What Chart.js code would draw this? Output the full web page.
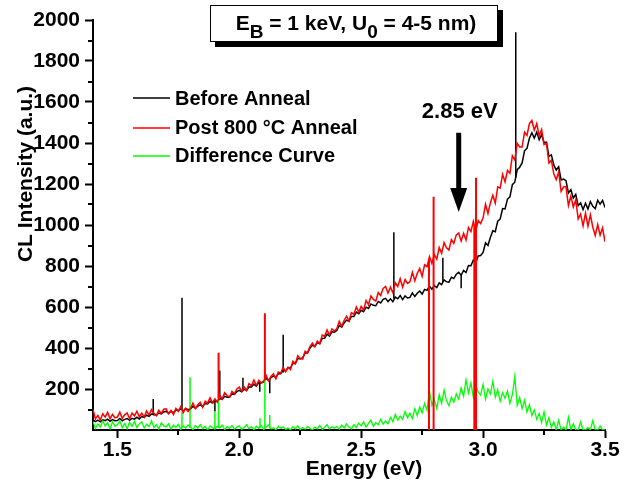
<!DOCTYPE html>
<html>
<head>
<meta charset="utf-8">
<script src="https://cdn.jsdelivr.net/npm/chart.js@4.4.1/dist/chart.umd.min.js"></script>
<style>
  html, body { margin: 0; padding: 0; background: #fff; }
  #wrap { width: 634px; height: 480px; position: relative; }
</style>
</head>
<body>
<div id="wrap"><canvas id="spectrum"></canvas></div>
<script>
// photon energy (eV), one channel every 0.01 eV
const energy = [
  1.40, 1.41, 1.42, 1.43, 1.44, 1.45, 1.46, 1.47, 1.48, 1.49,
  1.50, 1.51, 1.52, 1.53, 1.54, 1.55, 1.56, 1.57, 1.58, 1.59,
  1.60, 1.61, 1.62, 1.63, 1.64, 1.65, 1.66, 1.67, 1.68, 1.69,
  1.70, 1.71, 1.72, 1.73, 1.74, 1.75, 1.76, 1.77, 1.78, 1.79,
  1.80, 1.81, 1.82, 1.83, 1.84, 1.85, 1.86, 1.87, 1.88, 1.89,
  1.90, 1.91, 1.92, 1.93, 1.94, 1.95, 1.96, 1.97, 1.98, 1.99,
  2.00, 2.01, 2.02, 2.03, 2.04, 2.05, 2.06, 2.07, 2.08, 2.09,
  2.10, 2.11, 2.12, 2.13, 2.14, 2.15, 2.16, 2.17, 2.18, 2.19,
  2.20, 2.21, 2.22, 2.23, 2.24, 2.25, 2.26, 2.27, 2.28, 2.29,
  2.30, 2.31, 2.32, 2.33, 2.34, 2.35, 2.36, 2.37, 2.38, 2.39,
  2.40, 2.41, 2.42, 2.43, 2.44, 2.45, 2.46, 2.47, 2.48, 2.49,
  2.50, 2.51, 2.52, 2.53, 2.54, 2.55, 2.56, 2.57, 2.58, 2.59,
  2.60, 2.61, 2.62, 2.63, 2.64, 2.65, 2.66, 2.67, 2.68, 2.69,
  2.70, 2.71, 2.72, 2.73, 2.74, 2.75, 2.76, 2.77, 2.78, 2.79,
  2.80, 2.81, 2.82, 2.83, 2.84, 2.85, 2.86, 2.87, 2.88, 2.89,
  2.90, 2.91, 2.92, 2.93, 2.94, 2.95, 2.96, 2.97, 2.98, 2.99,
  3.00, 3.01, 3.02, 3.03, 3.04, 3.05, 3.06, 3.07, 3.08, 3.09,
  3.10, 3.11, 3.12, 3.13, 3.14, 3.15, 3.16, 3.17, 3.18, 3.19,
  3.20, 3.21, 3.22, 3.23, 3.24, 3.25, 3.26, 3.27, 3.28, 3.29,
  3.30, 3.31, 3.32, 3.33, 3.34, 3.35, 3.36, 3.37, 3.38, 3.39,
  3.40, 3.41, 3.42, 3.43, 3.44, 3.45, 3.46, 3.47, 3.48, 3.49,
  3.50
];

const beforeAnneal = [
  50, 41, 48, 40, 50, 46, 53, 42, 51, 45,
  46, 56, 45, 52, 56, 47, 57, 53, 62, 54,
  66, 61, 72, 67, 78, 74, 72, 83, 79, 88,
  91, 82, 91, 84, 98, 94, 104, 93, 105, 99,
  102, 116, 106, 116, 123, 115, 129, 127, 140, 132,
  143, 139, 154, 149, 164, 160, 160, 176, 174, 187,
  193, 186, 199, 193, 211, 210, 224, 214, 231, 229,
  235, 252, 242, 255, 264, 257, 275, 275, 293, 287,
  303, 302, 326, 325, 349, 348, 352, 376, 377, 400,
  413, 408, 426, 422, 447, 448, 468, 458, 479, 477,
  485, 510, 502, 522, 536, 530, 554, 554, 575, 567,
  584, 577, 599, 593, 615, 608, 606, 627, 620, 637,
  642, 626, 640, 626, 648, 640, 656, 636, 654, 644,
  647, 669, 651, 667, 678, 663, 686, 681, 702, 687,
  704, 695, 718, 709, 732, 723, 721, 745, 739, 760,
  769, 755, 778, 768, 802, 801, 829, 816, 849, 851,
  866, 913, 900, 940, 972, 967, 1019, 1029, 1080, 1078,
  1126, 1137, 1197, 1209, 1270, 1282, 1303, 1362, 1374, 1423,
  1450, 1424, 1453, 1416, 1441, 1401, 1404, 1335, 1342, 1293,
  1268, 1284, 1220, 1224, 1216, 1156, 1172, 1132, 1149, 1094,
  1108, 1075, 1106, 1078, 1114, 1091, 1080, 1121, 1102, 1120,
  1085
];

const postAnneal = [
  100, 54, 71, 49, 79, 63, 86, 55, 76, 59,
  63, 87, 57, 74, 83, 55, 82, 69, 92, 64,
  82, 63, 93, 73, 100, 81, 70, 96, 80, 101,
  103, 79, 96, 75, 105, 91, 114, 84, 106, 90,
  105, 131, 104, 123, 135, 110, 140, 131, 157, 132,
  152, 136, 169, 152, 182, 168, 160, 189, 176, 200,
  209, 189, 210, 193, 227, 216, 243, 217, 242, 230,
  238, 266, 240, 261, 274, 250, 283, 277, 306, 284,
  306, 295, 336, 323, 362, 349, 346, 384, 375, 408,
  424, 406, 434, 421, 463, 456, 488, 463, 493, 484,
  494, 530, 505, 535, 555, 532, 572, 565, 600, 575,
  603, 585, 632, 611, 654, 637, 629, 670, 656, 691,
  700, 668, 697, 670, 718, 700, 738, 697, 734, 715,
  723, 769, 728, 764, 788, 750, 806, 797, 846, 812,
  856, 834, 890, 862, 914, 889, 878, 929, 910, 952,
  961, 922, 959, 927, 988, 968, 1018, 971, 1021, 1007,
  1035, 1101, 1056, 1109, 1145, 1107, 1186, 1180, 1247, 1210,
  1266, 1252, 1338, 1317, 1398, 1380, 1380, 1453, 1437, 1495,
  1510, 1462, 1495, 1435, 1465, 1392, 1398, 1302, 1315, 1250,
  1222, 1259, 1164, 1186, 1187, 1095, 1141, 1088, 1122, 1030,
  1054, 996, 1058, 994, 1050, 989, 949, 1002, 950, 986,
  918
];

const difference = [
  42, 8, 30, 15, 44, 20, 36, 5, 40, 18,
  25, 45, 10, 32, 6, 38, 18, 42, 12, 30,
  40, 9, 28, 16, 45, 12, 26, 4, 35, 20,
  15, 30, 4, 24, 12, 28, 3, 20, 9, 25,
  14, 2, 22, 10, 26, 6, 18, 0, 20, 11,
  4, 18, 10, 24, 2, 16, 8, 22, 5, 14,
  20, 3, 12, 26, 6, 16, 1, 18, 8, 22,
  2, 14, 24, 5, 12, 0, 18, 8, 15, 3,
  10, 0, 16, 6, 20, 2, 12, 4, 18, 8,
  0, 14, 6, 22, 3, 12, 26, 5, 16, 9,
  18, 4, 24, 10, 30, 14, 6, 26, 12, 34,
  20, 40, 14, 32, 48, 18, 36, 26, 52, 28,
  44, 30, 62, 40, 76, 48, 68, 52, 90, 60,
  82, 56, 104, 70, 112, 84, 130, 96, 190, 120,
  150, 105, 172, 130, 195, 142, 118, 160, 136, 176,
  150, 205, 165, 245, 180, 230, 160, 215, 185, 170,
  222, 150, 200, 176, 238, 160, 196, 140, 182, 155,
  190, 130, 172, 262, 120, 158, 104, 145, 88, 124,
  70, 98, 52, 80, 36, 88, 24, 60, 12, 40,
  0, 48, 0, 14, 0, 62, 0, 30, 0, 0,
  40, 0, 0, 12, 0, 46, 0, 0, 20, 0,
  0
];

// single-channel spikes and dropouts: where, level it leaves the curve, level it reaches
const beforeSpikeE = [1.647, 1.765, 1.900, 1.920, 2.015, 2.084, 2.125, 2.180, 2.634, 2.835, 2.910, 3.134];
const beforeSpikeFrom = [78, 100, 142, 148, 196, 230, 248, 280, 640, 722, 760, 1230];
const beforeSpikeTo = [151, 645, 90, 290, 255, 187, 179, 465, 965, 840, 692, 1940];

const postSpikeE = [1.915, 2.105, 2.778, 2.797, 2.964, 2.971];
const postSpikeFrom = [155, 245, 830, 0, 1000, 0];
const postSpikeTo = [377, 570, 0, 1138, 0, 1230];

const diffSpikeE = [1.765, 1.798, 1.900, 1.915, 2.085, 2.105, 2.125, 2.971];
const diffSpikeFrom = [10, 10, 10, 10, 8, 8, 8, 200];
const diffSpikeTo = [89, 257, 89, 187, 57, 317, 73, 390];

const xTicks = [1.5, 2.0, 2.5, 3.0, 3.5];
const xMinor = [1.75, 2.25, 2.75, 3.25];
const yTicks = [200, 400, 600, 800, 1000, 1200, 1400, 1600, 1800, 2000];
const yMinor = [100, 300, 500, 700, 900, 1100, 1300, 1500, 1700, 1900];

const FONT = '"Liberation Sans", Arial, Helvetica, sans-serif';

const pts = (ys) => energy.map((e, i) => ({ x: e, y: ys[i] }));
const spikePts = (es, from, to) =>
  es.flatMap((e, i) => [{ x: e, y: from[i] }, { x: e, y: to[i] }, { x: e, y: null }]);

// text, arrow, legend and minor ticks drawn on top of the plot
const overlay = {
  id: 'overlay',
  afterDraw(chart) {
    const { ctx } = chart;
    const xs = chart.scales.x;
    const ys = chart.scales.y;
    ctx.save();

    // minor ticks
    ctx.strokeStyle = '#000';
    ctx.lineWidth = 2;
    ctx.beginPath();
    xMinor.forEach(v => {
      const px = Math.round(xs.getPixelForValue(v));
      ctx.moveTo(px, ys.bottom);
      ctx.lineTo(px, ys.bottom + 5);
    });
    yMinor.forEach(v => {
      const py = Math.round(ys.getPixelForValue(v));
      ctx.moveTo(xs.left, py);
      ctx.lineTo(xs.left - 5, py);
    });
    ctx.stroke();

    // axis titles
    ctx.fillStyle = '#000';
    ctx.font = 'bold 21px ' + FONT;
    ctx.textAlign = 'center';
    ctx.textBaseline = 'alphabetic';
    ctx.fillText('Energy (eV)', 364, 475);
    ctx.save();
    ctx.translate(32, 174);
    ctx.rotate(-Math.PI / 2);
    ctx.fillText('CL Intensity (a.u.)', 0, 0);
    ctx.restore();

    // boxed title with shadow
    ctx.fillStyle = '#000';
    ctx.fillRect(215, 10, 288, 37);
    ctx.fillStyle = '#fff';
    ctx.fillRect(210, 5, 288, 37);
    ctx.lineWidth = 1;
    ctx.strokeRect(210.5, 5.5, 287, 36);
    const big = 'bold 21px ' + FONT;
    const sub = 'bold 19px ' + FONT;
    const parts = [['E', big, 0], ['B', sub, 8], [' = 1 keV, U', big, 0], ['0', sub, 8], [' = 4-5 nm)', big, 0]];
    let total = 0;
    parts.forEach(([t, f]) => { ctx.font = f; total += ctx.measureText(t).width; });
    let cx = 356 - total / 2;
    ctx.textAlign = 'left';
    ctx.fillStyle = '#000';
    parts.forEach(([t, f, dy]) => {
      ctx.font = f;
      ctx.fillText(t, cx, 30 + dy);
      cx += ctx.measureText(t).width;
    });

    // legend
    const legend = [
      ['Before Anneal', '#000000', 98, 105],
      ['Post 800 \u00B0C Anneal', '#ff0000', 128, 134],
      ['Difference Curve', '#00ff00', 156, 162]
    ];
    ctx.font = 'bold 20px ' + FONT;
    legend.forEach(([t, c, ly, by]) => {
      ctx.strokeStyle = c;
      ctx.lineWidth = 1.5;
      ctx.beginPath();
      ctx.moveTo(133, ly);
      ctx.lineTo(170, ly);
      ctx.stroke();
      ctx.fillStyle = '#000';
      ctx.fillText(t, 175, by);
    });

    // 2.85 eV marker
    const ax = xs.getPixelForValue(2.9);
    ctx.font = 'bold 22px ' + FONT;
    ctx.textAlign = 'center';
    ctx.fillText('2.85 eV', ax + 1, ys.getPixelForValue(1522));
    const top = ys.getPixelForValue(1450);
    const headBase = ys.getPixelForValue(1180);
    const tip = ys.getPixelForValue(1063);
    ctx.fillRect(ax - 2.5, top, 5, headBase - top + 1);
    ctx.beginPath();
    ctx.moveTo(ax - 8.5, headBase);
    ctx.lineTo(ax + 8.5, headBase);
    ctx.lineTo(ax, tip);
    ctx.closePath();
    ctx.fill();

    ctx.restore();
  }
};

const tickFont = { family: FONT, size: 21, weight: 'bold' };

new Chart('spectrum', {
  type: 'line',
  data: {
    datasets: [
      { label: 'Post 800 °C Anneal', data: pts(postAnneal), borderColor: '#ff0000', borderWidth: 1.5, order: 1 },
      { label: 'post spikes', data: spikePts(postSpikeE, postSpikeFrom, postSpikeTo), borderColor: '#ff0000', borderWidth: 2, order: 1 },
      { label: 'Difference Curve', data: pts(difference), borderColor: '#00ff00', borderWidth: 1.3, order: 2 },
      { label: 'diff spikes', data: spikePts(diffSpikeE, diffSpikeFrom, diffSpikeTo), borderColor: '#00ff00', borderWidth: 1.5, order: 2 },
      { label: 'Before Anneal', data: pts(beforeAnneal), borderColor: '#000000', borderWidth: 1.5, order: 3 },
      { label: 'before spikes', data: spikePts(beforeSpikeE, beforeSpikeFrom, beforeSpikeTo), borderColor: '#000000', borderWidth: 1.5, order: 3 }
    ]
  },
  options: {
    responsive: true,
    maintainAspectRatio: false,
    animation: false,
    events: [],
    layout: { padding: { top: 20, right: 29, left: 0, bottom: 0 } },
    elements: {
      point: { radius: 0 },
      line: { tension: 0, fill: false }
    },
    plugins: {
      legend: { display: false },
      tooltip: { enabled: false }
    },
    scales: {
      x: {
        type: 'linear',
        min: 1.4,
        max: 3.5,
        afterBuildTicks: s => { s.ticks = xTicks.map(v => ({ value: v })); },
        afterFit: s => { s.height = 50; },
        grid: { drawOnChartArea: false, tickLength: 8, tickWidth: 2, tickColor: '#000' },
        border: { color: '#000', width: 2 },
        ticks: { color: '#000', font: tickFont, padding: 0, maxRotation: 0, callback: v => v.toFixed(1) }
      },
      y: {
        min: 0,
        max: 2000,
        afterBuildTicks: s => { s.ticks = yTicks.map(v => ({ value: v })); },
        afterFit: s => { s.width = 93; },
        grid: { drawOnChartArea: false, tickLength: 8, tickWidth: 2, tickColor: '#000' },
        border: { color: '#000', width: 2 },
        ticks: { color: '#000', font: tickFont, padding: 5, callback: v => String(v) }
      }
    }
  },
  plugins: [overlay]
});
</script>
</body>
</html>
